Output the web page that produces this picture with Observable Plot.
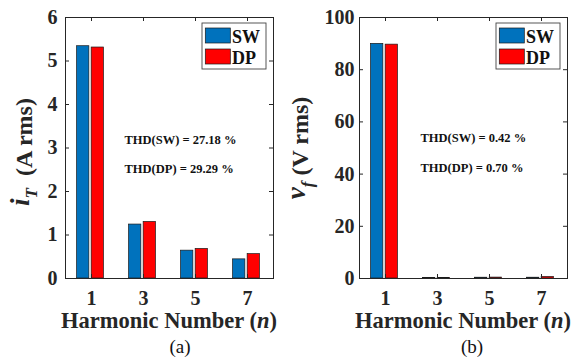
<!DOCTYPE html>
<html><head><meta charset="utf-8">
<script src="https://cdn.jsdelivr.net/npm/d3@7"></script>
<script src="https://cdn.jsdelivr.net/npm/@observablehq/plot@0.6"></script>
<style>
body{margin:0;background:#fff;}
#fig{display:flex;width:582px;height:359px;}
#fig svg{display:block;}
</style></head><body><div id="fig"></div>
<script>
const harmonics = [1, 3, 5, 7];
const seriesNames = ["SW", "DP"];
const iT_SW = [5.34, 1.24, 0.64, 0.44];
const iT_DP = [5.31, 1.30, 0.68, 0.56];
const vf_SW = [89.9, 0.25, 0.30, 0.30];
const vf_DP = [89.6, 0.25, 0.35, 0.60];
const iT_ticks = [0, 1, 2, 3, 4, 5, 6];
const vf_ticks = [0, 20, 40, 60, 80, 100];
const thd_a = ["THD(SW) = 27.18 %", "THD(DP) = 29.29 %"];
const thd_b = ["THD(SW) = 0.42 %", "THD(DP) = 0.70 %"];
const xLabel = ["Harmonic Number (", "n", ")"];
const colors = {SW: "#0072BD", DP: "#FF0000"};
const FONT = "'Liberation Serif', 'Times New Roman', serif";
const INK = "#262626";

function panel(o) {
  const W = 291, H = 359, mt = 17, mb = 81;
  const ml = o.ml, mr = o.mr;
  const pw = W - ml - mr, ph = H - mt - mb, bw = pw / 4;
  const barW = 12.3, gap = 2.3, off = (bw - 2 * barW - gap) / 2 - 1;
  const rows = harmonics.map((n, i) => ({n, sw: o.sw[i], dp: o.dp[i]}));
  const svg = Plot.plot({
    width: W, height: H, marginLeft: ml, marginRight: mr, marginTop: mt, marginBottom: mb,
    style: {fontFamily: FONT, fontWeight: "bold", fontSize: "20px", color: INK, background: "transparent", overflow: "visible"},
    x: {type: "band", domain: harmonics, padding: 0, label: null},
    y: {domain: o.yDomain, label: null},
    marks: [
      Plot.barY(rows, {x: "n", y: "sw", fill: colors.SW, stroke: "#1a1a1a", strokeWidth: 0.7, insetLeft: off, insetRight: bw - off - barW}),
      Plot.barY(rows, {x: "n", y: "dp", fill: colors.DP, stroke: "#1a1a1a", strokeWidth: 0.7, insetLeft: off + barW + gap, insetRight: bw - off - 2 * barW - gap}),
      Plot.tickX(harmonics, {x: d => d, insetTop: ph - 4, stroke: INK}),
      Plot.tickX(harmonics, {x: d => d, insetBottom: ph - 4, stroke: INK}),
      Plot.tickY(o.yTicks, {y: d => d, insetRight: pw - 4, stroke: INK}),
      Plot.tickY(o.yTicks, {y: d => d, insetLeft: pw - 4, stroke: INK}),
      Plot.frame({stroke: INK, strokeWidth: 1}),
      Plot.axisX({tickSize: 0, tickPadding: 12, fontSize: 20, fontWeight: "bold", label: null}),
      Plot.axisY({ticks: o.yTicks, tickFormat: d3.format("d"), tickSize: 0, tickPadding: o.tp, fontSize: 20, fontWeight: "bold", label: null}),
      Plot.text([o.thd[0]], {text: d => d, frameAnchor: "top-left", dx: o.thdDx, dy: o.thdDy[0], textAnchor: "start", fontSize: 12.5, fontWeight: "bold", fill: "#111"}),
      Plot.text([o.thd[1]], {text: d => d, frameAnchor: "top-left", dx: o.thdDx, dy: o.thdDy[1], textAnchor: "start", fontSize: 12.5, fontWeight: "bold", fill: "#111"})
    ]
  });
  const s = d3.select(svg);
  // legend
  const lw = 64, lh = 46, lx = W - mr - 7 - lw, ly = mt + 6;
  const lg = s.append("g");
  lg.append("rect").attr("x", lx).attr("y", ly).attr("width", lw).attr("height", lh)
    .attr("fill", "white").attr("stroke", "#444").attr("stroke-width", 0.9);
  seriesNames.forEach((name, i) => {
    lg.append("rect").attr("x", lx + 3.3).attr("y", ly + 5 + i * 21).attr("width", 25).attr("height", 15)
      .attr("fill", colors[name]).attr("stroke", "#1a1a1a").attr("stroke-width", 0.7);
    lg.append("text").attr("x", lx + 30).attr("y", ly + 19.5 + i * 21).attr("text-anchor", "start")
      .attr("font-family", FONT).attr("font-weight", "bold").attr("font-size", 18).attr("fill", "#111").text(name);
  });
  // y label
  const yl = s.append("text").attr("transform", `translate(${o.ylX},${o.ylY}) rotate(-90)`)
    .attr("text-anchor", "middle").attr("font-family", FONT).attr("font-weight", "bold").attr("fill", INK);
  yl.append("tspan").attr("font-style", "italic").attr("font-size", 27).attr("dy", -3).text(o.yl[0]);
  yl.append("tspan").attr("font-style", "italic").attr("font-size", 17).attr("dy", 8).text(o.yl[1]);
  yl.append("tspan").attr("font-size", 24).attr("dy", -5).text(o.yl[2]);
  // x label
  const xl = s.append("text").attr("x", ml + pw / 2).attr("y", 328).attr("text-anchor", "middle")
    .attr("font-family", FONT).attr("font-weight", "bold").attr("font-size", 22.5).attr("fill", INK);
  xl.append("tspan").text(xLabel[0]);
  xl.append("tspan").attr("font-style", "italic").text(xLabel[1]);
  xl.append("tspan").text(xLabel[2]);
  // caption
  s.append("text").attr("x", o.capX).attr("y", 353).attr("text-anchor", "middle")
    .attr("font-family", FONT).attr("font-weight", "normal").attr("font-size", 19).attr("fill", "#111").text(o.caption);
  return svg;
}

const fig = document.getElementById("fig");
fig.appendChild(panel({sw: iT_SW, dp: iT_DP, yDomain: [0, 6], yTicks: iT_ticks, ml: 65, mr: 18, tp: 8,
  thd: thd_a, thdDx: 59, thdDy: [118, 147], yl: ["i", "T", "  (A rms)"], ylX: 32, ylY: 152, capX: 180, caption: "(a)"}));
fig.appendChild(panel({sw: vf_SW, dp: vf_DP, yDomain: [0, 100], yTicks: vf_ticks, ml: 68, mr: 15, tp: 5,
  thd: thd_b, thdDx: 61, thdDy: [116, 146], yl: ["v", "f", " (V rms)"], ylX: 17, ylY: 148, capX: 181, caption: "(b)"}));
</script></body></html>
